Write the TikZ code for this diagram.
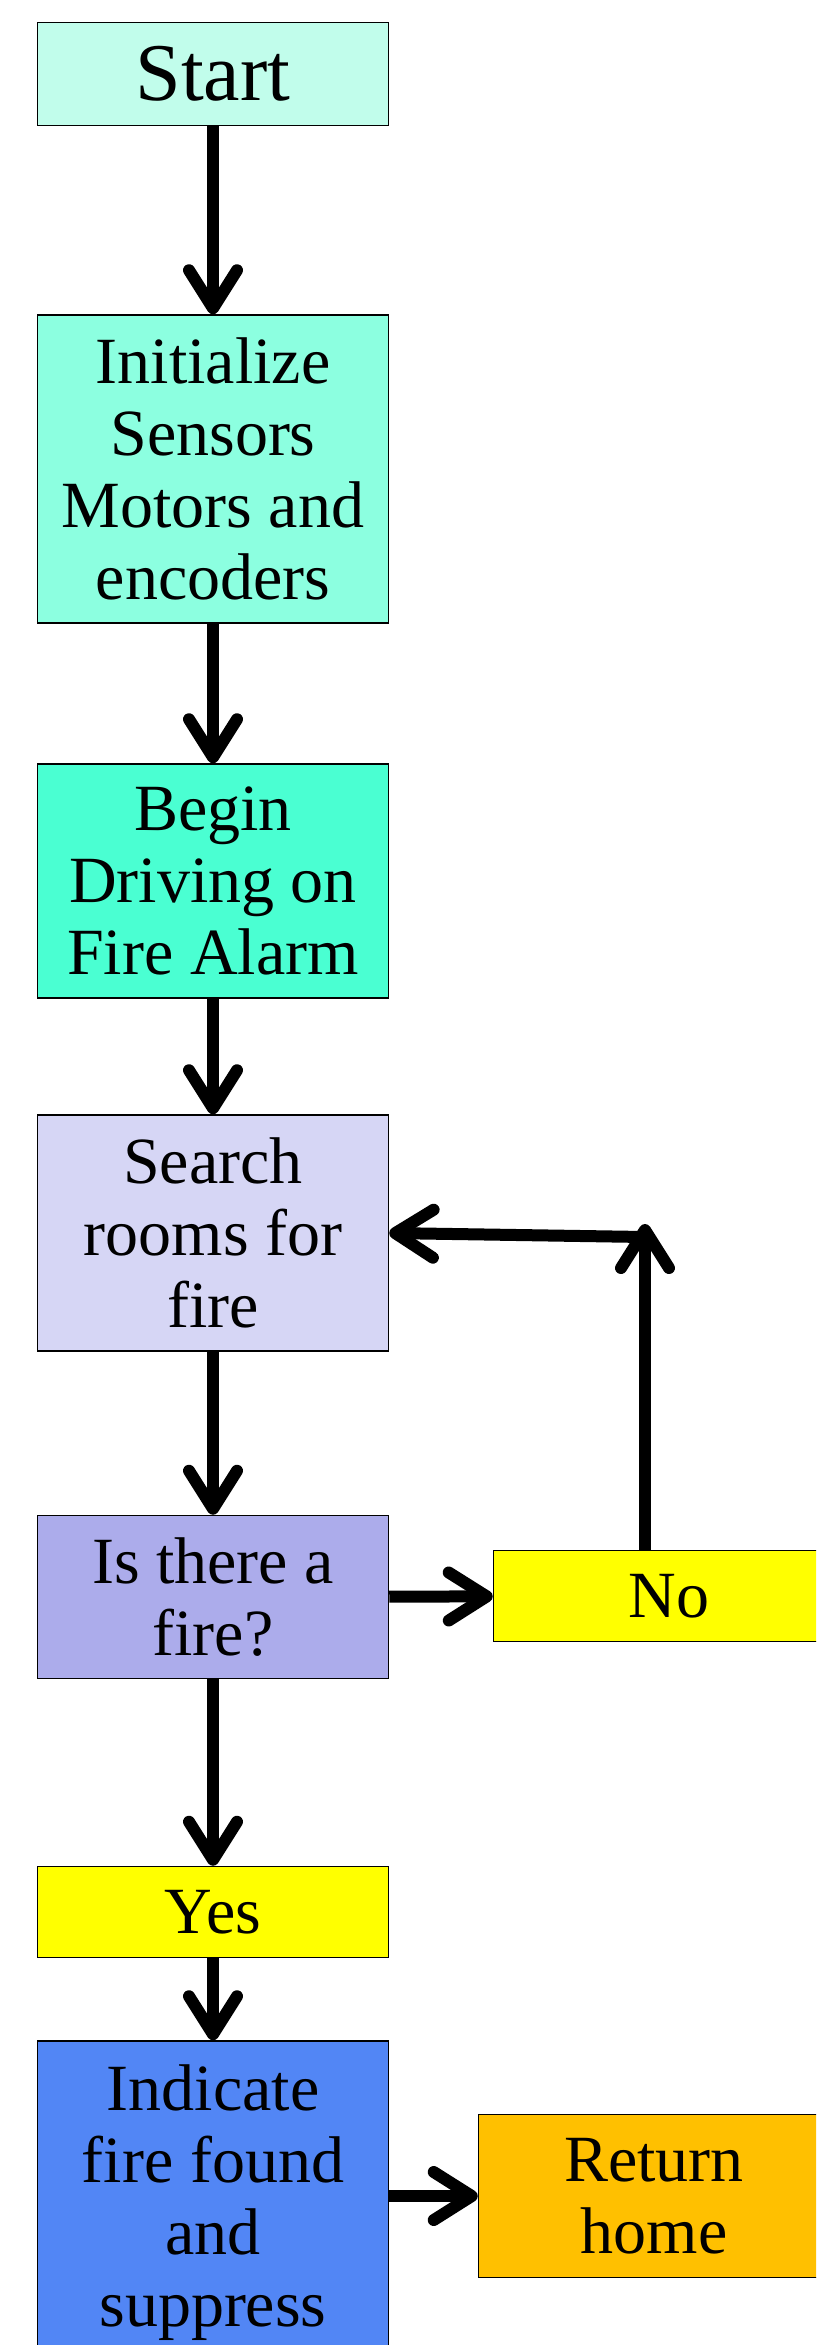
\documentclass[tikz,border=0pt]{standalone}
\usepackage{fontspec}
\setmainfont{Liberation Serif}
\usepackage{tikz}
\usetikzlibrary{arrows.meta}
\definecolor{startC}{RGB}{193,253,235}
\definecolor{initC}{RGB}{140,255,224}
\definecolor{driveC}{RGB}{74,255,210}
\definecolor{searchC}{RGB}{214,214,245}
\definecolor{askC}{RGB}{172,172,235}
\definecolor{answerC}{RGB}{255,255,0}
\definecolor{fireC}{RGB}{82,134,245}
\definecolor{homeC}{RGB}{255,192,0}

\begin{document}
\begin{tikzpicture}[x=0.5pt,y=-0.5pt,
    box/.style={draw,line width=0.75pt,minimum width=175.5pt,inner sep=0pt,
                align=center,font=\fontsize{33}{36}\selectfont},
    flow/.style={line width=6pt,-{Straight Barb[length=19pt,width=24pt,round]}}]
  \useasboundingbox (0,0) rectangle (816,2345);
  \clip (0,0) rectangle (816,2345);
  \fill[white] (0,0) rectangle (816,2345);

  \node[box,fill=startC,minimum height=51.5pt,font=\fontsize{41}{46}\selectfont]
    (start) at (213,74) {Start};
  \node[box,fill=initC,minimum height=154pt] (init) at (213,469)
    {Initialize\\Sensors\\Motors and\\encoders};
  \node[box,fill=driveC,minimum height=117pt] (drive) at (213,881)
    {Begin\\Driving on\\Fire Alarm};
  \node[box,fill=searchC,minimum height=118pt] (search) at (213,1233)
    {Search\\rooms for\\fire};
  \node[box,fill=askC,minimum height=81.5pt] (ask) at (213,1597)
    {Is there a\\fire?};
  \node[box,fill=answerC,minimum height=45.5pt] (no) at (669,1596) {No};
  \node[box,fill=answerC,minimum height=45.5pt] (yes) at (213,1912) {Yes};
  \node[box,fill=fireC,minimum height=162pt] (fire) at (213,2203)
    {Indicate\\fire found\\and\\suppress};
  \node[box,fill=homeC,minimum height=81.5pt] (home) at (654,2196)
    {Return\\home};

  \draw[flow] (start) -- (init);
  \draw[flow] (init) -- (drive);
  \draw[flow] (drive) -- (search);
  \draw[flow] (search) -- (ask);
  \draw[flow] (ask) -- (no);
  \draw[flow] (ask) -- (yes);
  \draw[flow] (yes) -- (fire);
  \draw[flow] (fire.east |- home) -- (home);

  % back to the search
  \coordinate (turn) at (645,1224);
  \coordinate (bend) at (645,1237);
  \draw[flow] (no.north -| turn) -- (turn);
  \draw[flow] (bend) -- (search.east);
\end{tikzpicture}
\end{document}
